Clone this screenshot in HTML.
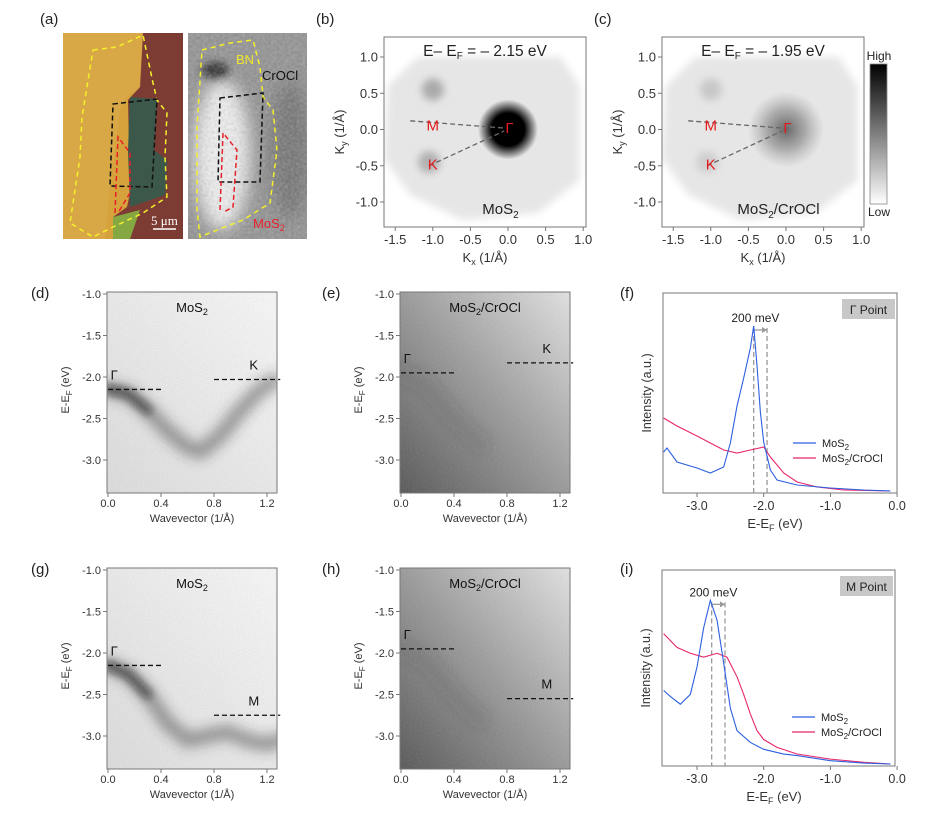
<!DOCTYPE html>
<html><head><meta charset="utf-8"><style>
html,body{margin:0;padding:0;background:#fff;}
svg{display:block;font-family:"Liberation Sans",sans-serif;}
</style></head><body>
<svg id="fig" width="925" height="815" viewBox="0 0 925 815" xmlns="http://www.w3.org/2000/svg">
<defs>
<filter id="blur2" x="-50%" y="-50%" width="200%" height="200%"><feGaussianBlur stdDeviation="2.5"/></filter>
<filter id="blur4" x="-50%" y="-50%" width="200%" height="200%"><feGaussianBlur stdDeviation="4"/></filter>
<filter id="blur6" x="-50%" y="-50%" width="200%" height="200%"><feGaussianBlur stdDeviation="6"/></filter>
<filter id="blur8" x="-50%" y="-50%" width="200%" height="200%"><feGaussianBlur stdDeviation="8"/></filter>
<filter id="grain"><feTurbulence type="fractalNoise" baseFrequency="0.35" numOctaves="1" seed="3"/><feColorMatrix type="saturate" values="0"/><feComponentTransfer><feFuncA type="linear" slope="0.45"/></feComponentTransfer></filter>
<filter id="grain2"><feTurbulence type="fractalNoise" baseFrequency="0.6" numOctaves="1" seed="7"/><feColorMatrix type="saturate" values="0"/><feComponentTransfer><feFuncA type="linear" slope="0.18"/></feComponentTransfer></filter>
<radialGradient id="gspotB"><stop offset="0" stop-color="#000"/><stop offset="0.55" stop-color="#000"/><stop offset="1" stop-color="#000" stop-opacity="0"/></radialGradient>
<radialGradient id="gspotC"><stop offset="0" stop-color="#666"/><stop offset="0.5" stop-color="#999" stop-opacity="0.8"/><stop offset="1" stop-color="#aaa" stop-opacity="0"/></radialGradient>
<linearGradient id="cbar" x1="0" y1="0" x2="0" y2="1"><stop offset="0" stop-color="#000"/><stop offset="1" stop-color="#fff"/></linearGradient>
<linearGradient id="darkbg" x1="0" y1="1" x2="1" y2="0"><stop offset="0" stop-color="#555"/><stop offset="0.5" stop-color="#999"/><stop offset="1" stop-color="#e2e2e2"/></linearGradient>
<linearGradient id="lightbg" x1="0" y1="1" x2="1" y2="0"><stop offset="0" stop-color="#dcdcdc"/><stop offset="1" stop-color="#f8f8f8"/></linearGradient>
<clipPath id="clipA1"><rect x="63" y="33" width="120" height="206"/></clipPath>
<clipPath id="clipA2"><rect x="188" y="33" width="119" height="206"/></clipPath>
<clipPath id="clipB"><rect x="384" y="37" width="202" height="190"/></clipPath>
<clipPath id="clipC"><rect x="662" y="37" width="202" height="190"/></clipPath>
<clipPath id="clipD"><rect x="107" y="292" width="170" height="201"/></clipPath>
<clipPath id="clipE"><rect x="400" y="292" width="170" height="201"/></clipPath>
<clipPath id="clipG"><rect x="107" y="568" width="170" height="201"/></clipPath>
<clipPath id="clipH"><rect x="400" y="568" width="170" height="201"/></clipPath>
</defs>

<g font-size="15" fill="#222">
<text x="40" y="24">(a)</text>
<text x="316" y="24">(b)</text>
<text x="594" y="24">(c)</text>
<text x="31" y="298">(d)</text>
<text x="322" y="298">(e)</text>
<text x="620" y="298">(f)</text>
<text x="31" y="574">(g)</text>
<text x="322" y="574">(h)</text>
<text x="620" y="574">(i)</text>
</g>

<g clip-path="url(#clipA1)">
<rect x="63" y="33" width="120" height="206" fill="#d5a23c"/>
<polygon points="63,33 143,33 140,87 127,97 120,110 110,186 105,239 63,239" fill="#d9a846"/>
<polygon points="143,33 183,33 183,239 113,239 113,217 127,207 130,193 128,100 140,87" fill="#7c3c34"/>
<polygon points="130,97 157,99 154,150 167,160 165,195 130,207 128,150" fill="#3b584a"/>
<polygon points="113,217 140,210 130,239 113,239" fill="#86a842"/>
<polygon points="93,50 117,47 143,35 153,83 157,100 167,113 165,157 167,197 143,213 113,227 93,237 70,223 80,157 82,117" fill="none" stroke="#f4f02a" stroke-width="1.5" stroke-dasharray="5,4"/>
<polygon points="113,104 157,99 152,187 110,186" fill="none" stroke="#111" stroke-width="1.5" stroke-dasharray="5,3"/>
<polyline points="115,213 118,137 130,153 130,193 118,213" fill="none" stroke="#e8202a" stroke-width="1.5" stroke-dasharray="5,3"/>
<line x1="153" y1="229" x2="176" y2="229" stroke="#fff" stroke-width="1.5"/>
<text x="151" y="225" font-family="Liberation Serif,serif" font-size="13" fill="#fff">5 μm</text>
</g>
<g clip-path="url(#clipA2)">
<rect x="188" y="33" width="119" height="206" fill="#8e8e8e"/>
<ellipse cx="222" cy="155" rx="28" ry="75" fill="#f2f2f2" filter="url(#blur8)"/>
<ellipse cx="215" cy="70" rx="14" ry="8" fill="#222" filter="url(#blur4)"/>
<ellipse cx="290" cy="150" rx="20" ry="70" fill="#6e6e6e" filter="url(#blur8)"/>
<rect x="188" y="33" width="119" height="206" filter="url(#grain)"/>
<polygon points="202,50 230,43 253,40 260,67 263,97 273,110 277,150 270,203 243,220 217,230 200,237 197,210 197,127" fill="none" stroke="#f4f02a" stroke-width="1.5" stroke-dasharray="5,4"/>
<polygon points="220,98 263,93 260,182 218,182" fill="none" stroke="#111" stroke-width="1.5" stroke-dasharray="5,3"/>
<polyline points="220,210 223,133 237,150 233,207 224,212" fill="none" stroke="#e8202a" stroke-width="1.5" stroke-dasharray="5,3"/>
<text x="236" y="64" font-size="13" fill="#f0e62a">BN</text>
<text x="262" y="80" font-size="13" fill="#111">CrOCl</text>
<text x="253" y="228" font-size="13" fill="#e8202a">MoS<tspan font-size="9" dy="3">2</tspan></text>
</g>

<g id="plots"></g>
</svg>
<script>
// ---------- data ----------
const kTicksBZ = [-1.5, -1.0, -0.5, 0.0, 0.5, 1.0];
const kyTicksBZ = [1.0, 0.5, 0.0, -0.5, -1.0];
const kTicksBand = [0.0, 0.4, 0.8, 1.2];
const eTicksBand = [-1.0, -1.5, -2.0, -2.5, -3.0];
const eTicksSpec = [-3.0, -2.0, -1.0, 0.0];
const bandGK_k = [0.0, 0.15, 0.3, 0.45, 0.6, 0.7, 0.85, 1.0, 1.15, 1.25];
const bandGK_E = [-2.15, -2.2, -2.4, -2.65, -2.85, -2.9, -2.7, -2.4, -2.15, -2.05];
const bandGM_k = [0.0, 0.15, 0.3, 0.45, 0.6, 0.75, 0.9, 1.05, 1.2, 1.3];
const bandGM_E = [-2.15, -2.25, -2.5, -2.85, -3.05, -3.0, -2.95, -3.05, -3.1, -3.05];
const bandHet_k = [0.0, 0.2, 0.4, 0.6];
const bandHet_E = [-1.95, -2.1, -2.5, -2.8];
const specF_E = [-3.5,-3.45,-3.3,-3.0,-2.8,-2.6,-2.5,-2.4,-2.3,-2.2,-2.15,-2.1,-2.05,-2.0,-1.9,-1.8,-1.5,-1.0,-0.5,-0.1];
const specF_MoS2 = [0.2,0.22,0.15,0.12,0.095,0.125,0.245,0.43,0.57,0.72,0.83,0.63,0.4,0.25,0.11,0.06,0.035,0.02,0.01,0.005];
const specF_Het_E = [-3.5,-3.3,-3.0,-2.8,-2.6,-2.4,-2.2,-2.0,-1.9,-1.7,-1.5,-1.2,-0.8,-0.1];
const specF_Het = [0.37,0.33,0.28,0.245,0.21,0.195,0.21,0.225,0.175,0.095,0.05,0.025,0.01,0.005];
const specI_E = [-3.5,-3.4,-3.25,-3.1,-3.0,-2.9,-2.8,-2.7,-2.6,-2.5,-2.4,-2.2,-2.0,-1.7,-1.5,-1.0,-0.5,-0.1];
const specI_MoS2 = [0.38,0.35,0.31,0.36,0.5,0.7,0.84,0.74,0.52,0.29,0.175,0.115,0.08,0.056,0.048,0.022,0.01,0.005];
const specI_Het_E = [-3.5,-3.3,-3.1,-2.9,-2.7,-2.55,-2.4,-2.3,-2.2,-2.1,-2.0,-1.8,-1.5,-1.0,-0.5,-0.1];
const specI_Het = [0.67,0.6,0.57,0.55,0.57,0.55,0.45,0.36,0.26,0.175,0.13,0.09,0.056,0.03,0.014,0.005];

const NS = 'http://www.w3.org/2000/svg';
const root = document.getElementById('plots');
function mk(tag, attrs, parent) {
  const e = document.createElementNS(NS, tag);
  for (const k in attrs) e.setAttribute(k, attrs[k]);
  (parent || root).appendChild(e);
  return e;
}
function fmt(v) { return (v < 0 ? '-' : '') + Math.abs(v).toFixed(1); }

function bzPanel(dx, clip, title, dark, sub) {
  const g = mk('g', {});
  
  
  const sx = v => 508 + dx + v * 75.2;
  const sy = v => 129.5 - v * 72.5;
  const c = mk('g', {'clip-path': 'url(#' + clip + ')'}, g);
  mk('polygon', {points: [[-1.6,0.6],[-1.2,1.0],[0.7,1.0],[0.95,0.6],[0.95,-0.7],[0.4,-1.15],[-0.6,-1.25],[-1.3,-0.9],[-1.65,-0.4]].map(p => sx(p[0]) + ',' + sy(p[1])).join(' '), fill: '#e6e6e6', filter: 'url(#blur4)'}, c);
  mk('circle', {cx: sx(-1.0), cy: sy(0.55), r: 11, fill: dark ? '#aaa' : '#c8c8c8', filter: 'url(#blur4)'}, c);
  mk('circle', {cx: sx(-1.05), cy: sy(-0.45), r: 11, fill: dark ? '#b0b0b0' : '#cfcfcf', filter: 'url(#blur4)'}, c);
  mk('circle', {cx: sx(0.0), cy: sy(0.0), r: dark ? 30 : 38, fill: dark ? 'url(#gspotB)' : 'url(#gspotC)'}, c);
  mk('line', {x1: sx(-1.3), y1: sy(0.12), x2: sx(-0.05), y2: sy(0.02), stroke: '#666', 'stroke-width': 1.3, 'stroke-dasharray': '5,3'}, g);
  mk('line', {x1: sx(-1.05), y1: sy(-0.5), x2: sx(-0.05), y2: sy(-0.02), stroke: '#666', 'stroke-width': 1.3, 'stroke-dasharray': '5,3'}, g);
  const lblM = mk('text', {x: sx(-1.0), y: sy(0.0) + 1, fill: '#e41a1c', 'font-size': 15, 'text-anchor': 'middle'}, g);
  lblM.textContent = 'M';
  
  
  const lblK = mk('text', {x: sx(-1.0), y: sy(-0.55), fill: '#e41a1c', 'font-size': 15, 'text-anchor': 'middle'}, g);
  lblK.textContent = 'K';
  
  
  const lblG = mk('text', {x: sx(0.02), y: sy(-0.05), fill: '#e41a1c', 'font-size': 15, 'text-anchor': 'middle'}, g);
  lblG.textContent = 'Γ';
  
  
  mk('rect', {x: 384 + dx, y: 37, width: 202, height: 190, fill: 'none', stroke: '#777', 'stroke-width': 1}, g);
  const t = mk('text', {x: 485 + dx, y: 56, 'font-size': 15.5, 'text-anchor': 'middle', fill: '#222'}, g);
  t.innerHTML = 'E– E<tspan font-size="10" dy="3">F</tspan><tspan dy="-3"> = – ' + title + ' eV</tspan>';
  
  
  const s = mk('text', {x: sx(-0.1), y: 214, 'font-size': 15, 'text-anchor': 'middle', fill: '#222'}, g);
  s.innerHTML = sub;
  
  
  kTicksBZ.forEach(v => {
    const tk = mk('line', {x1: sx(v), y1: 227, x2: sx(v), y2: 231, stroke: '#777'}, g);
    
    
    const tl = mk('text', {x: sx(v), y: 244, 'font-size': 13, 'text-anchor': 'middle', fill: '#333'}, g);
    tl.textContent = fmt(v);
    
    
  });
  kyTicksBZ.forEach(v => {
    const tk = mk('line', {x1: 380 + dx, y1: sy(v), x2: 384 + dx, y2: sy(v), stroke: '#777'}, g);
    
    
    const tl = mk('text', {x: 378 + dx, y: sy(v) + 4.5, 'font-size': 13, 'text-anchor': 'end', fill: '#333'}, g);
    tl.textContent = fmt(v);
    
    
  });
  const xl = mk('text', {x: 485 + dx, y: 262, 'font-size': 13, 'text-anchor': 'middle', fill: '#333'}, g);
  xl.innerHTML = 'K<tspan font-size="9" dy="3">x</tspan><tspan dy="-3"> (1/Å)</tspan>';
  
  
  const yl = mk('text', {x: 0, y: 0, 'font-size': 13, 'text-anchor': 'middle', fill: '#333', transform: 'translate(' + (344 + dx) + ',132) rotate(-90)'}, g);
  yl.innerHTML = 'K<tspan font-size="9" dy="3">y</tspan><tspan dy="-3"> (1/Å)</tspan>';
  
  
}
bzPanel(0, 'clipB', '2.15', true, 'MoS<tspan font-size="10" dy="4">2</tspan>');
bzPanel(278, 'clipC', '1.95', false, 'MoS<tspan font-size="10" dy="4">2</tspan><tspan dy="-4">/CrOCl</tspan>');
const cb = mk('rect', {x: 870, y: 64, width: 17, height: 140, fill: 'url(#cbar)', stroke: '#888', 'stroke-width': 0.8});


const cbh = mk('text', {x: 879, y: 60, 'font-size': 12, 'text-anchor': 'middle', fill: '#222'});
cbh.textContent = 'High';


const cbl = mk('text', {x: 879, y: 216, 'font-size': 12, 'text-anchor': 'middle', fill: '#222'});
cbl.textContent = 'Low';



function bandPanel(left, top, clip, dark, bandK, bandE, gE, rE, rLabel, sub) {
  const g = mk('g', {});
  
  
  const sx = k => left + 1 + k * 132.5;
  const sy = E => top + 2 + (-1.0 - E) * 83;
  const c = mk('g', {'clip-path': 'url(#' + clip + ')'}, g);
  mk('rect', {x: left, y: top, width: 170, height: 201, fill: dark ? 'url(#darkbg)' : 'url(#lightbg)'}, c);
  const pts = bandK.map((k, i) => sx(k) + ',' + sy(bandE[i])).join(' ');
  const bnd = mk('polyline', {points: pts, fill: 'none', stroke: '#333', 'stroke-width': dark ? 20 : 16, 'stroke-opacity': dark ? 0.12 : 0.45, 'stroke-linecap': 'round', 'stroke-linejoin': 'round', filter: 'url(#blur6)'}, c);
  
  
  if (!dark) {
    const top3 = bandK.slice(0, 3).map((k, i) => sx(k) + ',' + sy(bandE[i])).join(' ');
    mk('polyline', {points: top3, fill: 'none', stroke: '#111', 'stroke-width': 9, 'stroke-opacity': 0.6, 'stroke-linecap': 'round', filter: 'url(#blur4)'}, c);
  }
  mk('rect', {x: left, y: top, width: 170, height: 201, filter: 'url(#grain2)'}, c);
  mk('rect', {x: left, y: top, width: 170, height: 201, fill: 'none', stroke: '#777'}, g);
  const d1 = mk('line', {x1: sx(0), y1: sy(gE), x2: sx(0.4), y2: sy(gE), stroke: '#111', 'stroke-width': 1.3, 'stroke-dasharray': '5,3'}, g);
  
  
  const d2 = mk('line', {x1: sx(0.8), y1: sy(rE), x2: sx(1.3), y2: sy(rE), stroke: '#111', 'stroke-width': 1.3, 'stroke-dasharray': '5,3'}, g);
  
  
  const gl = mk('text', {x: sx(0.02), y: sy(gE) - 10, 'font-size': 13, fill: '#111'}, g);
  gl.textContent = 'Γ';
  
  
  const rl = mk('text', {x: sx(1.1), y: sy(rE) - 10, 'font-size': 13, fill: '#111', 'text-anchor': 'middle'}, g);
  rl.textContent = rLabel;
  
  
  const st = mk('text', {x: left + 85, y: top + 20, 'font-size': 13, fill: '#111', 'text-anchor': 'middle'}, g);
  st.innerHTML = sub;
  
  
  kTicksBand.forEach(v => {
    const tk = mk('line', {x1: sx(v), y1: top + 201, x2: sx(v), y2: top + 205, stroke: '#777'}, g);
    
    
    const tl = mk('text', {x: sx(v), y: top + 215, 'font-size': 11, 'text-anchor': 'middle', fill: '#333'}, g);
    tl.textContent = fmt(v);
    
    
  });
  eTicksBand.forEach(v => {
    const tk = mk('line', {x1: left - 4, y1: sy(v), x2: left, y2: sy(v), stroke: '#777'}, g);
    
    
    const tl = mk('text', {x: left - 6, y: sy(v) + 4, 'font-size': 11, 'text-anchor': 'end', fill: '#333'}, g);
    tl.textContent = fmt(v);
    
    
  });
  const xl = mk('text', {x: left + 85, y: top + 230, 'font-size': 11, 'text-anchor': 'middle', fill: '#333'}, g);
  xl.textContent = 'Wavevector (1/Å)';
  
  
  const yl = mk('text', {x: 0, y: 0, 'font-size': 11, 'text-anchor': 'middle', fill: '#333', transform: 'translate(' + (left - 38) + ',' + (top + 98) + ') rotate(-90)'}, g);
  yl.innerHTML = 'E-E<tspan font-size="8" dy="3">F</tspan><tspan dy="-3"> (eV)</tspan>';
  
  
}
const subMoS2 = 'MoS<tspan font-size="9" dy="3">2</tspan>';
const subHet = 'MoS<tspan font-size="9" dy="3">2</tspan><tspan dy="-3">/CrOCl</tspan>';
bandPanel(107, 292, 'clipD', false, bandGK_k, bandGK_E, -2.15, -2.03, 'K', subMoS2);
bandPanel(400, 292, 'clipE', true, bandHet_k, bandHet_E, -1.95, -1.83, 'K', subHet);
bandPanel(107, 568, 'clipG', false, bandGM_k, bandGM_E, -2.15, -2.75, 'M', subMoS2);
bandPanel(400, 568, 'clipH', true, bandHet_k, bandHet_E, -1.95, -2.55, 'M', subHet);

function specPanel(left, top, w, h, eA, iA, eB, iB, peakA, peakB, pointLabel) {
  const g = mk('g', {});
  
  
  const sx = E => 697 + (E + 3.0) * 66.7;
  const sy = I => top + h - 1 - I * h;
  mk('rect', {x: left, y: top, width: w, height: h, fill: 'none', stroke: '#777'}, g);
  const b = mk('rect', {x: left + w - 55, y: top + 6, width: 53, height: 20, fill: '#c8c8c8'}, g);
  
  
  const bt = mk('text', {x: left + w - 28.5, y: top + 21, 'font-size': 12, 'text-anchor': 'middle', fill: '#222'}, g);
  bt.textContent = pointLabel;
  
  
  const pk = Math.max.apply(null, iA);
  [peakA, peakB].forEach(E => {
    const v = mk('line', {x1: sx(E), y1: sy(pk) + 2, x2: sx(E), y2: top + h, stroke: '#999', 'stroke-width': 1.3, 'stroke-dasharray': '5,3'}, g);
    
    
  });
  const ay = sy(pk) + 4;
  const ar = mk('line', {x1: sx(peakA), y1: ay, x2: sx(peakB), y2: ay, stroke: '#999', 'stroke-width': 1.3}, g);
  
  
  mk('polygon', {points: sx(peakB) + ',' + ay + ' ' + (sx(peakB) - 5) + ',' + (ay - 3) + ' ' + (sx(peakB) - 5) + ',' + (ay + 3), fill: '#999'}, g);
  const at = mk('text', {x: sx((peakA + peakB) / 2) - 5, y: ay - 8, 'font-size': 12, 'text-anchor': 'middle', fill: '#222'}, g);
  at.textContent = '200 meV';
  
  
  const lb = mk('polyline', {points: eB.map((E, i) => sx(E) + ',' + sy(iB[i])).join(' '), fill: 'none', stroke: '#e8266a', 'stroke-width': 1.1}, g);
  
  
  const la = mk('polyline', {points: eA.map((E, i) => sx(E) + ',' + sy(iA[i])).join(' '), fill: 'none', stroke: '#2d5fe0', 'stroke-width': 1.1}, g);
  
  
  const ly = top + h * 0.75;
  const l1 = mk('line', {x1: left + 130, y1: ly, x2: left + 153, y2: ly, stroke: '#2d5fe0', 'stroke-width': 1.2}, g);
  
  
  const t1 = mk('text', {x: left + 159, y: ly + 4, 'font-size': 11, fill: '#222'}, g);
  t1.innerHTML = 'MoS<tspan font-size="8" dy="3">2</tspan>';
  
  
  const l2 = mk('line', {x1: left + 130, y1: ly + 15, x2: left + 153, y2: ly + 15, stroke: '#e8266a', 'stroke-width': 1.2}, g);
  
  
  const t2 = mk('text', {x: left + 159, y: ly + 19, 'font-size': 11, fill: '#222'}, g);
  t2.innerHTML = 'MoS<tspan font-size="8" dy="3">2</tspan><tspan dy="-3">/CrOCl</tspan>';
  
  
  eTicksSpec.forEach(v => {
    const tk = mk('line', {x1: sx(v), y1: top + h, x2: sx(v), y2: top + h + 4, stroke: '#777'}, g);
    
    
    const tl = mk('text', {x: sx(v), y: top + h + 17, 'font-size': 12.5, 'text-anchor': 'middle', fill: '#333'}, g);
    tl.textContent = fmt(v);
    
    
  });
  const xl = mk('text', {x: left + 112, y: top + h + 35, 'font-size': 13, 'text-anchor': 'middle', fill: '#333'}, g);
  xl.innerHTML = 'E-E<tspan font-size="9" dy="3">F</tspan><tspan dy="-3"> (eV)</tspan>';
  
  
  const yl = mk('text', {x: 0, y: 0, 'font-size': 12.5, 'text-anchor': 'middle', fill: '#333', transform: 'translate(' + (left - 12) + ',' + (top + h / 2) + ') rotate(-90)'}, g);
  yl.textContent = 'Intensity (a.u.)';
  
  
}
specPanel(663, 293, 234, 200, specF_E, specF_MoS2, specF_Het_E, specF_Het, -2.15, -1.95, 'Γ Point');
specPanel(662, 570, 233, 196, specI_E, specI_MoS2, specI_Het_E, specI_Het, -2.78, -2.58, 'M Point');
</script>
</body></html>
